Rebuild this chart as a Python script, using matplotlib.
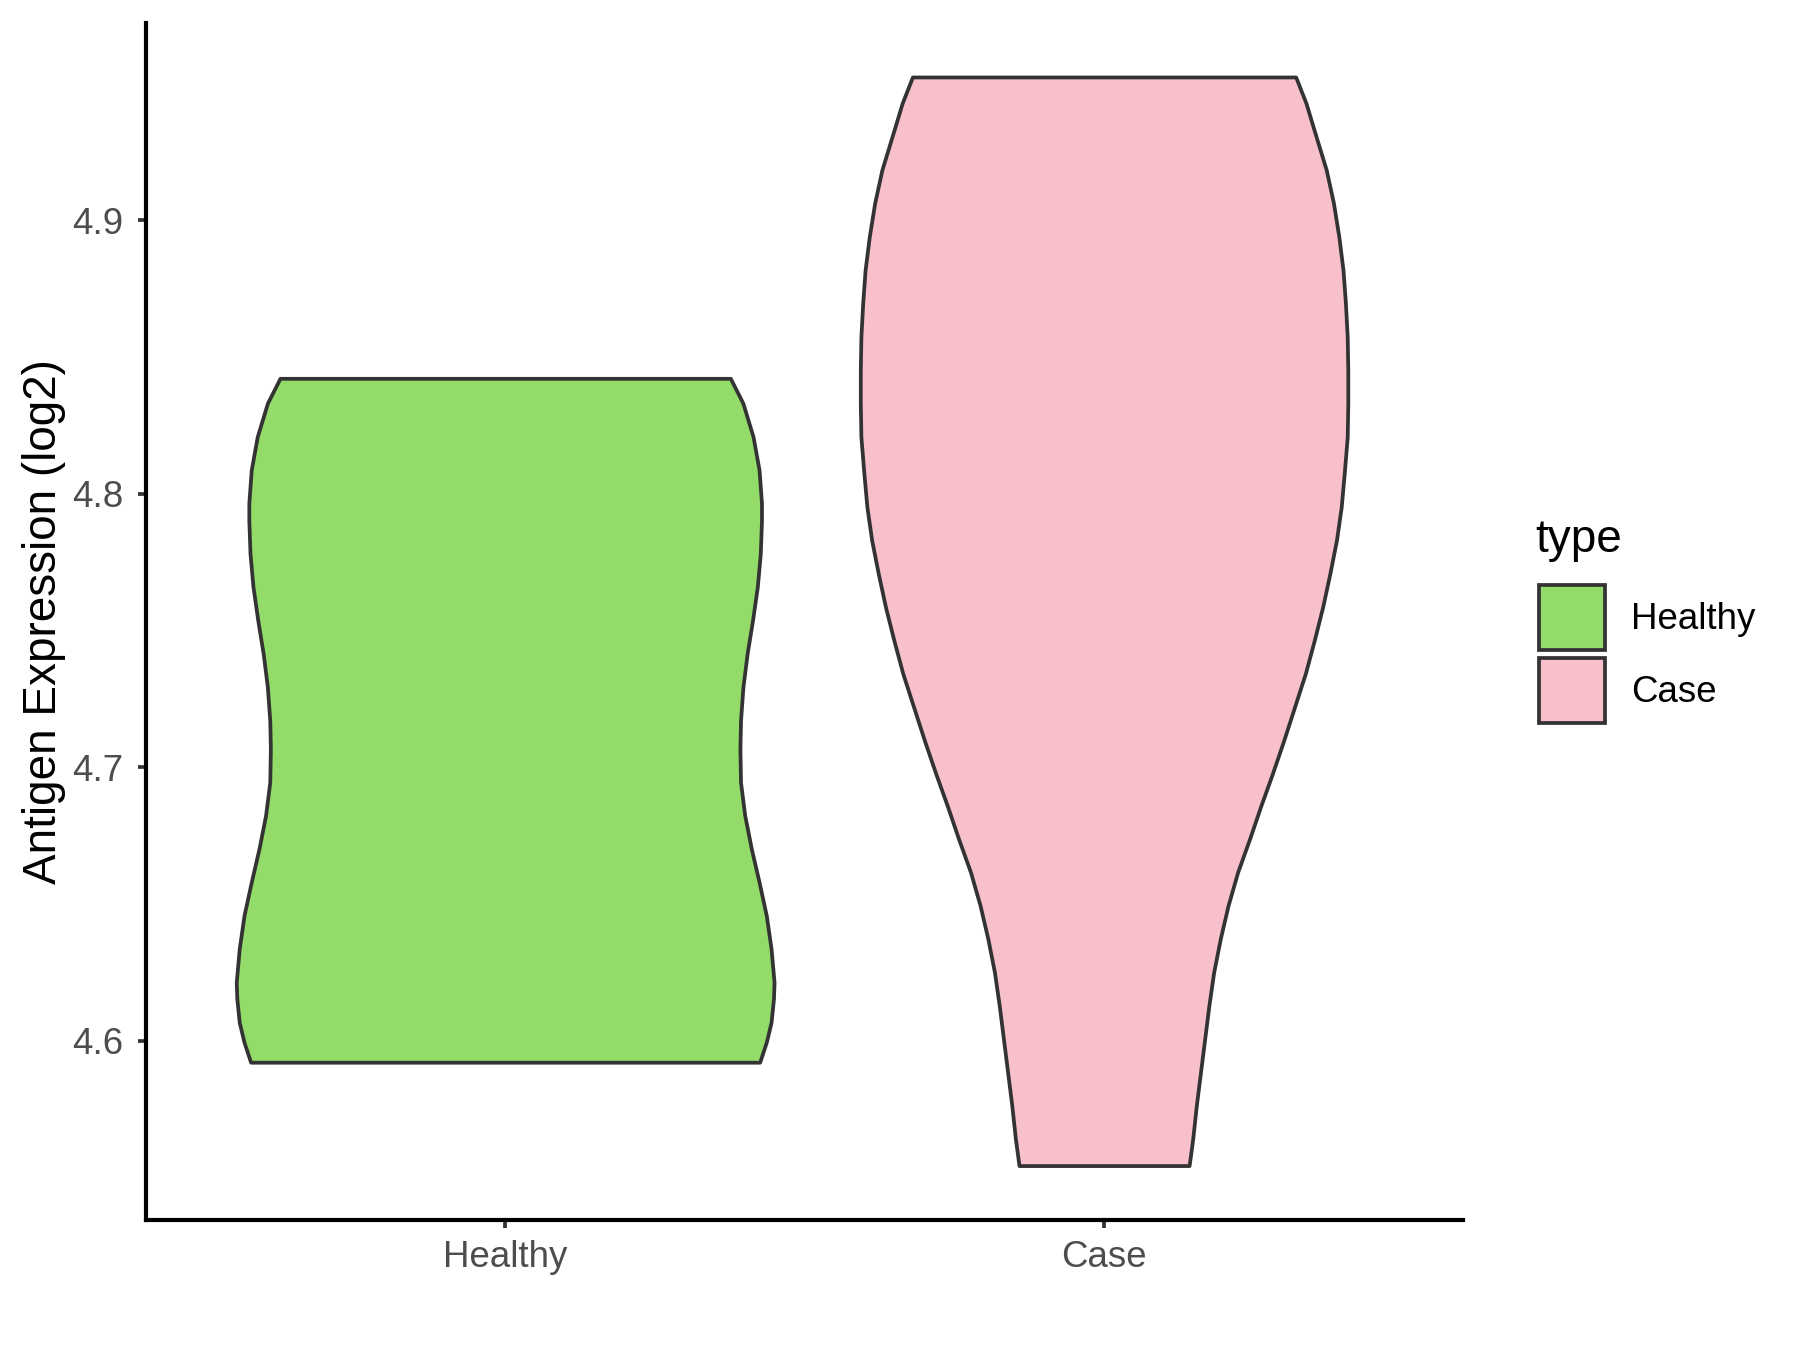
import numpy as np
import matplotlib.pyplot as plt
from matplotlib.patches import Patch, Rectangle
from matplotlib.legend_handler import HandlerPatch

plt.rcParams["font.family"] = ["Liberation Sans", "DejaVu Sans"]

# violin outlines: y value and half width (in category units)
categories = ["Healthy", "Case"]
colors = ["#93DC6A", "#F7C0CB"]

healthy_y = [4.8422, 4.8331, 4.8208, 4.8086, 4.7965, 4.7903, 4.7781, 4.7659, 4.7537, 4.7415,
             4.7293, 4.7171, 4.7068, 4.6945, 4.6824, 4.6702, 4.6579, 4.6458, 4.6336, 4.6213,
             4.6153, 4.6067, 4.5994, 4.5921]
healthy_w = [0.376, 0.397, 0.414, 0.424, 0.428, 0.428, 0.426, 0.421, 0.413, 0.404,
             0.397, 0.393, 0.392, 0.393, 0.400, 0.411, 0.424, 0.436, 0.444, 0.449,
             0.448, 0.444, 0.436, 0.425]

case_y = [4.9524, 4.9429, 4.9306, 4.9184, 4.9063, 4.8940, 4.8818, 4.8697, 4.8574, 4.8452,
          4.8331, 4.8208, 4.8074, 4.7952, 4.7830, 4.7708, 4.7586, 4.7464, 4.7342, 4.7220,
          4.7098, 4.6976, 4.6854, 4.6738, 4.6616, 4.6494, 4.6372, 4.6250, 4.6128, 4.6006,
          4.5884, 4.5762, 4.5640, 4.5543]
case_w = [0.320, 0.337, 0.354, 0.371, 0.383, 0.392, 0.399, 0.403, 0.406, 0.407,
          0.407, 0.406, 0.401, 0.396, 0.388, 0.377, 0.365, 0.351, 0.336, 0.318,
          0.300, 0.281, 0.261, 0.243, 0.223, 0.207, 0.194, 0.183, 0.175, 0.168,
          0.161, 0.154, 0.148, 0.142]

profiles = [(healthy_y, healthy_w), (case_y, case_w)]


class FullKey(HandlerPatch):
    # legend key that fills the whole handle box
    def create_artists(self, legend, orig_handle, xdescent, ydescent, width, height, fontsize, trans):
        r = Rectangle((-xdescent, -ydescent), width, height)
        self.update_prop(r, orig_handle, legend)
        r.set_transform(trans)
        return [r]


fig = plt.figure(figsize=(6, 4.5), dpi=300)
ax = fig.add_axes([0.081, 0.0963, 0.732, 0.887])

edge = "#333333"
for i, (yy, ww) in enumerate(profiles):
    pos = i + 1
    yy = np.array(yy)
    ww = np.array(ww)
    ax.fill_betweenx(yy, pos - ww, pos + ww, facecolor=colors[i], edgecolor=edge,
                     linewidth=0.9, joinstyle="round")

ally = np.concatenate([healthy_y, case_y])
span = ally.max() - ally.min()
ax.set_ylim(ally.min() - 0.05 * span, ally.max() + 0.05 * span)
ax.set_xlim(0.4, 2.6)

ax.set_xticks([1, 2])
ax.set_xticklabels(categories)
ax.set_yticks([4.6, 4.7, 4.8, 4.9])
ax.set_yticklabels(["4.6", "4.7", "4.8", "4.9"])

for s in ["top", "right"]:
    ax.spines[s].set_visible(False)
for s in ["left", "bottom"]:
    ax.spines[s].set_linewidth(1.0)
    ax.spines[s].set_color("black")

ax.tick_params(axis="both", length=2.0, width=0.9, color="#333333",
               labelsize=8.8, labelcolor="#4D4D4D")
ax.tick_params(axis="y", pad=3.4)
ax.tick_params(axis="x", pad=2.8)

ax.set_ylabel("Antigen Expression (log2)", fontsize=11, color="black", labelpad=1.4)

handles = [Patch(facecolor=colors[i], edgecolor=edge, linewidth=0.9, label=categories[i])
           for i in range(2)]
leg = fig.legend(handles=handles, loc="upper left", bbox_to_anchor=(0.855, 0.5665),
                 frameon=False, fontsize=8.8, handlelength=1.8, handleheight=2.35,
                 labelspacing=0.22, handletextpad=0.71, borderpad=0.0, borderaxespad=0.0,
                 handler_map={Patch: FullKey()})
fig.text(0.853, 0.600, "type", fontsize=11, va="center", ha="left")

plt.savefig("out.png", dpi=300)
